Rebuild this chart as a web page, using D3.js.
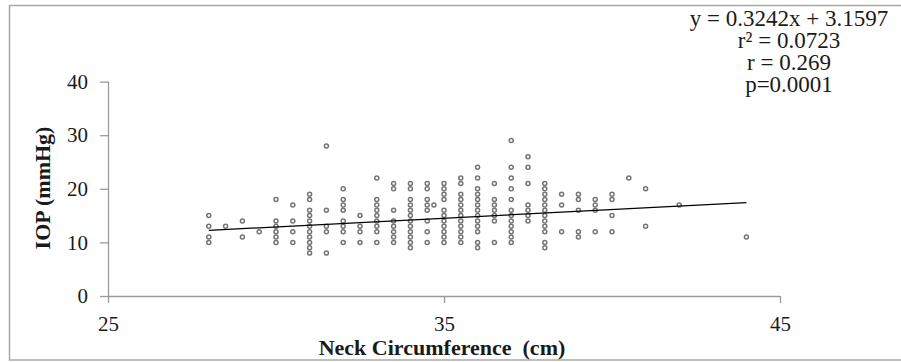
<!DOCTYPE html>
<html>
<head>
<meta charset="utf-8">
<script src="https://cdn.jsdelivr.net/npm/d3@7/dist/d3.min.js"></script>
<style>
  html, body { margin: 0; padding: 0; background: #fff; }
  svg { display: block; }
  text { font-family: "Liberation Serif", "Times New Roman", serif; fill: #1a1a1a; }
</style>
</head>
<body>
<svg id="chart" width="901" height="362"></svg>
<script>
// ---- data ----
const neckCm = [
  28,28,28,28,
  28.5,
  29,29,
  29.5,
  30,30,30,30,30,30,
  30.5,30.5,30.5,30.5,
  31,31,31,31,31,31,31,31,31,31,31,
  31.5,31.5,31.5,31.5,31.5,
  32,32,32,32,32,32,32,32,
  32.5,32.5,32.5,32.5,
  33,33,33,33,33,33,33,33,33,
  33.5,33.5,33.5,33.5,33.5,33.5,33.5,33.5,
  34,34,34,34,34,34,34,34,34,34,34,34,
  34.5,34.5,34.5,34.5,34.5,34.5,34.5,34.5,
  34.7,
  35,35,35,35,35,35,35,35,35,35,35,
  35.5,35.5,35.5,35.5,35.5,35.5,35.5,35.5,35.5,35.5,35.5,35.5,
  36,36,36,36,36,36,36,36,36,36,36,36,36,
  36.5,36.5,36.5,36.5,36.5,36.5,36.5,
  37,37,37,37,37,37,37,37,37,37,37,37,
  37.5,37.5,37.5,37.5,37.5,37.5,37.5,
  38,38,38,38,38,38,38,38,38,38,38,38,
  38.5,38.5,38.5,
  39,39,39,39,39,
  39.5,39.5,39.5,39.5,
  40,40,40,40,
  40.5,
  41,41,
  42,
  44
];
const iopMmHg = [
  15,13,11,10,
  13,
  14,11,
  12,
  18,14,13,12,11,10,
  17,14,12,10,
  19,18,16,15,14,13,12,11,10,9,8,
  28,16,13,12,8,
  20,18,17,16,14,13,12,10,
  15,13,12,10,
  22,18,17,16,15,14,13,12,10,
  21,20,16,14,13,12,11,10,
  21,20,18,17,16,15,14,13,12,11,10,9,
  21,20,18,17,16,14,12,10,
  17,
  21,20,19,18,16,15,14,13,12,11,10,
  22,21,19,18,17,16,15,14,13,12,11,10,
  24,22,20,19,18,17,16,15,14,13,12,10,9,
  21,18,17,16,15,14,10,
  29,24,22,20,18,16,15,14,13,12,11,10,
  26,24,21,17,16,15,14,
  21,20,19,18,17,16,15,14,13,12,10,9,
  19,17,12,
  19,18,16,12,11,
  18,17,16,12,
  19,18,15,12,
  22,
  20,13,
  17,
  11
];
const xTicks = [25, 35, 45];
const yTicks = [0, 10, 20, 30, 40];
const slope = 0.3242, intercept = 3.1597;
const fitRange = [28, 44];
const statLines = ["y = 0.3242x + 3.1597", "r\u00B2 = 0.0723", "r = 0.269", "p=0.0001"];
const xTitle = "Neck Circumference\u00A0 (cm)";
const yTitle = "IOP (mmHg)";

// ---- layout ----
const svg = d3.select("#chart");
const axisColor = "#9a9a9a";
const serif = '"Liberation Serif", "Times New Roman", serif';

svg.append("rect")
  .attr("x", 9.5).attr("y", 5.5).attr("width", 900).attr("height", 354.5)
  .attr("fill", "none").attr("stroke", "#a8a8a8").attr("stroke-width", 1.5);

const x = d3.scaleLinear().domain([25, 45]).range([108, 780]);
const y = d3.scaleLinear().domain([0, 40]).range([296, 81.6]);

// axes
const xAxis = svg.append("g").attr("transform", `translate(0,${y(0)})`)
  .call(d3.axisBottom(x).tickValues(xTicks).tickSize(7).tickSizeOuter(0).tickPadding(13));
const yAxis = svg.append("g").attr("transform", `translate(${x(25)},0)`)
  .call(d3.axisLeft(y).tickValues(yTicks).tickSize(8).tickSizeOuter(0).tickPadding(12));

[xAxis, yAxis].forEach(g => {
  g.attr("font-family", serif);
  g.select(".domain").attr("stroke", axisColor).attr("stroke-width", 1.3);
  g.selectAll(".tick line").attr("stroke", axisColor).attr("stroke-width", 1.3);
  g.selectAll(".tick text")
    .attr("fill", "#1a1a1a")
    .style("font-family", serif)
    .style("font-size", "21px");
});
yAxis.select(".domain").attr("d", `M0.5,${y(40)}V${y(0)}`);
xAxis.select(".domain").attr("d", `M${x(25)},0.5H${x(45)}`);

// points
svg.append("g").selectAll("circle")
  .data(neckCm.map((d, i) => [d, iopMmHg[i]]))
  .join("circle")
  .attr("cx", d => x(d[0]))
  .attr("cy", d => y(d[1]))
  .attr("r", 2)
  .attr("fill", "#fff")
  .attr("stroke", "#747474")
  .attr("stroke-width", 1.5);

// regression line
svg.append("line")
  .attr("x1", x(fitRange[0])).attr("y1", y(slope * fitRange[0] + intercept))
  .attr("x2", x(fitRange[1])).attr("y2", y(slope * fitRange[1] + intercept))
  .attr("stroke", "#000").attr("stroke-width", 1.3);

// titles
svg.append("text")
  .attr("x", 442).attr("y", 355)
  .attr("text-anchor", "middle")
  .style("font-size", "22px").style("font-weight", "bold")
  .text(xTitle);

svg.append("text")
  .attr("transform", "translate(50,188) rotate(-90)")
  .attr("text-anchor", "middle")
  .style("font-size", "22px").style("font-weight", "bold")
  .text(yTitle);

// statistics annotation
svg.append("g").selectAll("text")
  .data(statLines)
  .join("text")
  .attr("x", 789)
  .attr("y", (d, i) => 26 + i * 22)
  .attr("text-anchor", "middle")
  .style("font-size", "23px")
  .text(d => d);
</script>
</body>
</html>
